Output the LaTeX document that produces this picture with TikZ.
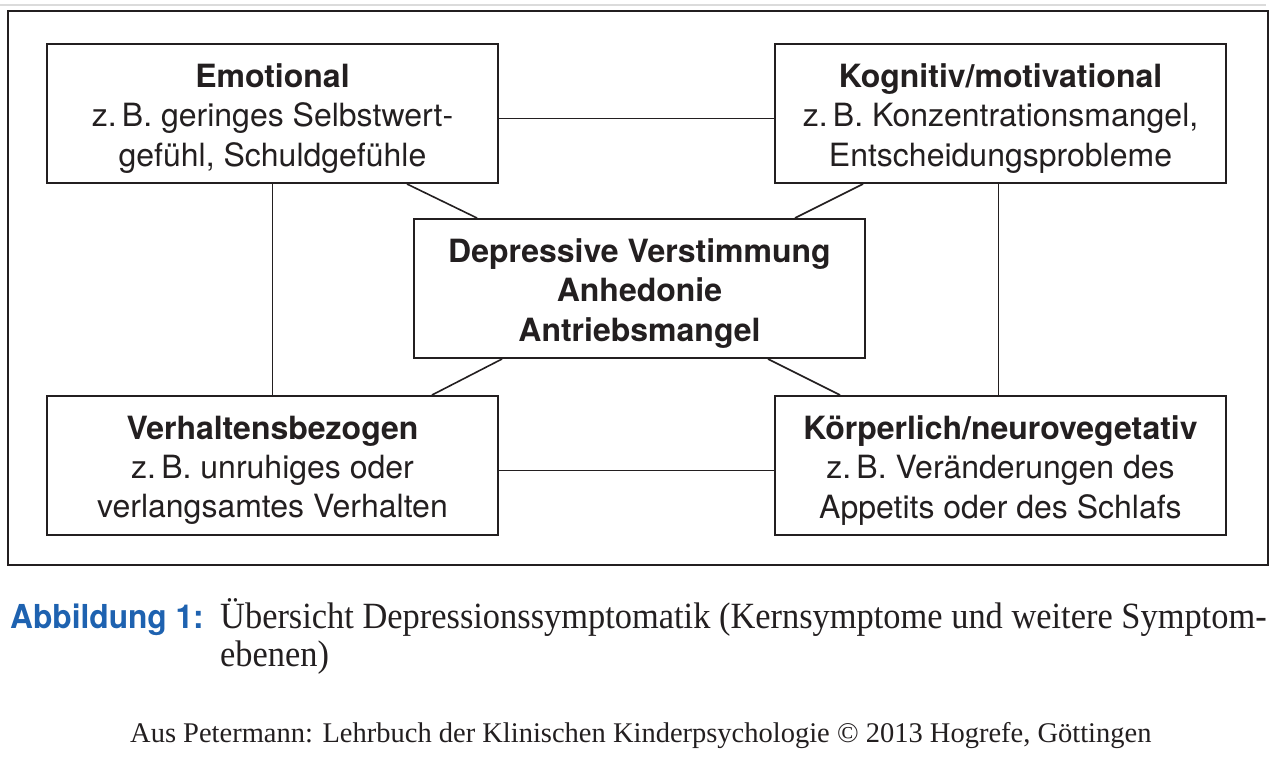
\documentclass[tikz,border=0pt]{standalone}
\usepackage{fontspec}
\setmainfont{TeX Gyre Heros}
\newfontfamily\capserif[FakeStretch=0.93]{Liberation Serif}
\newfontfamily\ftserif{Liberation Serif}
\newfontfamily\capsans[FakeStretch=0.96]{TeX Gyre Heros}
\definecolor{ink}{RGB}{35,31,32}
\definecolor{capblue}{RGB}{30,98,176}
\tikzset{
  symbox/.style={draw=ink, line width=2pt, minimum width=451pt, minimum height=139pt,
    inner sep=0pt},
  boxtext/.style={inner sep=0pt, align=center, text=ink, font=\fontsize{32}{39.3}\selectfont},
  link/.style={draw=ink, line width=1.6pt},
  captext/.style={anchor=base west, inner sep=0pt, text=ink}
}
\begin{document}
\begin{tikzpicture}[x=1pt,y=-1pt]
\useasboundingbox (0,0) rectangle (1280,756);
% faint top rule
\draw[black!14, line width=1.2pt] (0,5) -- (1266,5);
% outer frame
\draw[ink, line width=2.2pt] (8,11) rectangle (1268,565);

\node[symbox] (emo) at (272.5,113.5) {};
\node[symbox] (kog) at (1000.5,113.5) {};
\node[symbox] (core) at (639.5,288.5) {};
\node[symbox] (verh) at (272.5,465.5) {};
\node[symbox] (koerp) at (1000.5,465.5) {};

\node[boxtext] (emo-t) at ([yshift=-5pt]emo.center) {\textbf{Emotional}\\z.\,B. geringes Selbstwert-\\gefühl, Schuldgefühle};
\node[boxtext] (kog-t) at ([yshift=-5pt]kog.center) {\textbf{Kognitiv/motivational}\\z.\,B. Konzentrationsmangel,\\Entscheidungsprobleme};
\node[boxtext] (core-t) at ([yshift=-5pt]core.center) {\textbf{Depressive Verstimmung}\\\textbf{Anhedonie}\\\textbf{Antriebsmangel}};
\node[boxtext] (verh-t) at ([yshift=-5pt]verh.center) {\textbf{Verhaltensbezogen}\\z.\,B. unruhiges oder\\verlangsamtes Verhalten};
\node[boxtext] (koerp-t) at ([yshift=-5pt]koerp.center) {\textbf{Körperlich/neurovegetativ}\\z.\,B. Veränderungen des\\Appetits oder des Schlafs};

\draw[link] ([yshift=-5pt]emo.east) -- ([yshift=-5pt]kog.west);
\draw[link] ([yshift=-5pt]verh.east) -- ([yshift=-5pt]koerp.west);
\draw[link] (emo.south) -- (verh.north);
\draw[link] ([xshift=-2pt]kog.south) -- ([xshift=-2pt]koerp.north);
\draw[link] ([xshift=134.5pt]emo.south) -- ([xshift=-162.5pt]core.north);
\draw[link] ([xshift=-137.5pt]kog.south) -- ([xshift=155.5pt]core.north);
\draw[link] ([xshift=-137.5pt]core.south) -- ([xshift=159.5pt]verh.north);
\draw[link] ([xshift=128.5pt]core.south) -- ([xshift=-160.5pt]koerp.north);

% caption
\node[captext, text=capblue, font=\capsans\bfseries\fontsize{33}{38}\selectfont] (abb) at (10,628) {Abbildung 1:};
\node[captext, font=\capserif\fontsize{37}{38}\selectfont] (cap1) at (220,628) {Übersicht Depressionssymptomatik (Kernsymptome und weitere Symptom-};
\node[captext, font=\capserif\fontsize{37}{38}\selectfont] (cap2) at (220,666) {ebenen)};
% footer
\node[captext, font=\ftserif\fontsize{28.5}{30}\selectfont] (foot) at (130,742) {Aus Petermann: Lehrbuch der Klinischen Kinderpsychologie © 2013 Hogrefe, Göttingen};
\end{tikzpicture}
\end{document}
